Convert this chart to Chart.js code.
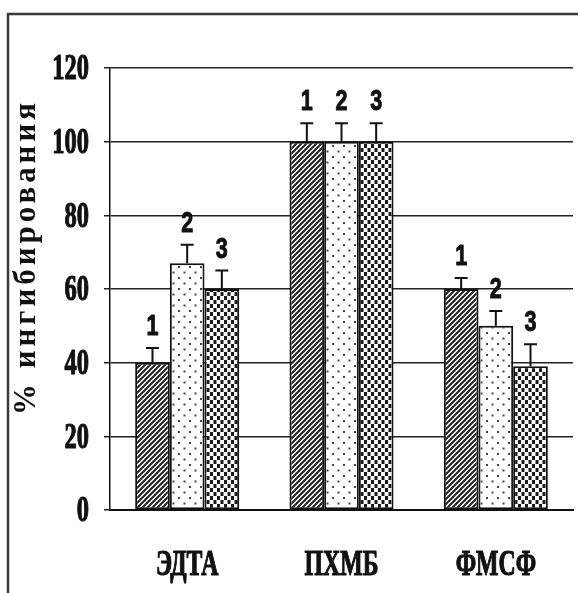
<!DOCTYPE html>
<html>
<head>
<meta charset="utf-8">
<script src="https://cdn.jsdelivr.net/npm/chart.js@4.4.1/dist/chart.umd.min.js"></script>
<style>
  html, body { margin: 0; padding: 0; background: #fff; }
  #chartInhib { display: block; }
</style>
</head>
<body>
<canvas id="chartInhib" width="578" height="593"></canvas>
<script>
  const categories = ["ЭДТА", "ПХМБ", "ФМСФ"];
  const seriesNames = ["1", "2", "3"];
  const values1 = [40, 100, 60];
  const values2 = [67, 100, 50];
  const values3 = [60, 100, 39];
  const errTop1 = [44, 105, 63];
  const errTop2 = [72, 105, 54];
  const errTop3 = [65, 105, 45];
  const yTicks = [0, 20, 40, 60, 80, 100, 120];
  const yTitle = "% ингибирования";

  function makePattern(w, h, draw) {
    const c = document.createElement("canvas");
    c.width = w; c.height = h;
    const g = c.getContext("2d");
    g.fillStyle = "#fff";
    g.fillRect(0, 0, w, h);
    draw(g);
    return document.getElementById("chartInhib").getContext("2d").createPattern(c, "repeat");
  }

  const hatchPattern = makePattern(5, 5, g => {
    g.strokeStyle = "#222";
    g.lineWidth = 2;
    g.beginPath();
    g.moveTo(-1, 6); g.lineTo(6, -1);
    g.moveTo(-1, 1); g.lineTo(1, -1);
    g.moveTo(4, 6); g.lineTo(6, 4);
    g.stroke();
  });
  const dotPattern = makePattern(11, 11, g => {
    g.fillStyle = "#444";
    g.fillRect(2, 2, 2, 2);
    g.fillRect(7.5, 7.5, 2, 2);
  });
  const squarePattern = makePattern(7, 8, g => {
    g.fillStyle = "#1a1a1a";
    g.fillRect(0, 0, 3, 4);
    g.fillRect(3.5, 4, 3, 4);
  });

  const errTops = [errTop1, errTop2, errTop3];

  // horizontally squeezed bold text, to imitate the narrow print font
  function narrowText(ctx, text, x, y, sx, align, weight) {
    ctx.save();
    ctx.translate(x, y);
    ctx.scale(sx, 1);
    ctx.textAlign = align;
    ctx.lineWidth = weight;
    ctx.lineJoin = "round";
    ctx.strokeStyle = ctx.fillStyle;
    ctx.fillText(text, 0, 0);
    if (weight > 0) ctx.strokeText(text, 0, 0);
    ctx.restore();
  }

  const frameAndTextPlugin = {
    id: "frameAndText",
    beforeDraw(chart) {
      const ctx = chart.ctx;
      ctx.save();
      ctx.fillStyle = "#fff";
      ctx.fillRect(0, 0, chart.width, chart.height);
      ctx.strokeStyle = "#3a3a3a";
      ctx.lineWidth = 2.5;
      ctx.beginPath();
      ctx.moveTo(8, chart.height); ctx.lineTo(8, 14); ctx.lineTo(chart.width, 14);
      ctx.stroke();
      ctx.restore();
    },
    afterDatasetsDraw(chart) {
      const ctx = chart.ctx;
      const yScale = chart.scales.y;
      const xScale = chart.scales.x;
      ctx.save();
      // error bars + series numbers
      chart.data.datasets.forEach((ds, di) => {
        const meta = chart.getDatasetMeta(di);
        meta.data.forEach((bar, i) => {
          const yTop = yScale.getPixelForValue(errTops[di][i]);
          ctx.strokeStyle = "#111";
          ctx.lineWidth = 2;
          ctx.beginPath();
          ctx.moveTo(bar.x, bar.y); ctx.lineTo(bar.x, yTop);
          ctx.moveTo(bar.x - 6.5, yTop); ctx.lineTo(bar.x + 6.5, yTop);
          ctx.stroke();
          ctx.fillStyle = "#111";
          ctx.font = "bold 30px 'Liberation Sans', Arial, sans-serif";
          ctx.textBaseline = "alphabetic";
          narrowText(ctx, seriesNames[di], bar.x, yTop - 13, 0.72, "center", 1);
        });
      });
      // y tick labels
      ctx.fillStyle = "#111";
      ctx.font = "bold 36px 'Liberation Serif', 'Times New Roman', serif";
      ctx.textBaseline = "middle";
      yTicks.forEach(v => {
        narrowText(ctx, String(v), 89, yScale.getPixelForValue(v) + 2, 0.68, "right", 1.2);
      });
      // category labels
      categories.forEach((c, i) => {
        narrowText(ctx, c, xScale.getPixelForValue(i), 566, 0.66, "center", 1.2);
      });
      // axis title
      ctx.save();
      ctx.translate(27, 257);
      ctx.rotate(-Math.PI / 2);
      ctx.font = "bold 31px 'Liberation Serif', 'Times New Roman', serif";
      ctx.letterSpacing = "0px";
      const natural = ctx.measureText(yTitle).width;
      ctx.letterSpacing = ((312 - natural) / (yTitle.length - 1)).toFixed(2) + "px";
      ctx.textAlign = "center";
      ctx.textBaseline = "middle";
      ctx.fillText(yTitle, 0, 0);
      ctx.restore();
      ctx.restore();
    }
  };

  new Chart(document.getElementById("chartInhib"), {
    type: "bar",
    data: {
      labels: categories,
      datasets: [
        { label: seriesNames[0], data: values1, backgroundColor: hatchPattern },
        { label: seriesNames[1], data: values2, backgroundColor: dotPattern },
        { label: seriesNames[2], data: values3, backgroundColor: squarePattern }
      ]
    },
    options: {
      responsive: false,
      animation: false,
      devicePixelRatio: 1,
      layout: { padding: { left: 8, right: 5, top: 68, bottom: 0 } },
      datasets: { bar: { borderColor: "#111", borderWidth: 2, borderSkipped: false, barPercentage: 1, categoryPercentage: 0.674 } },
      plugins: { legend: { display: false }, tooltip: { enabled: false } },
      scales: {
        x: {
          grid: { display: false },
          border: { display: true, color: "#111", width: 2 },
          ticks: { display: false },
          afterFit: s => { s.height = 83; }
        },
        y: {
          min: 0, max: 120,
          ticks: { display: false, stepSize: 20 },
          grid: { color: "#222", lineWidth: 1.5, tickLength: 6, drawTicks: true },
          border: { display: true, color: "#111", width: 1.5 },
          afterFit: s => { s.width = 102; }
        }
      }
    },
    plugins: [frameAndTextPlugin]
  });
</script>
</body>
</html>
